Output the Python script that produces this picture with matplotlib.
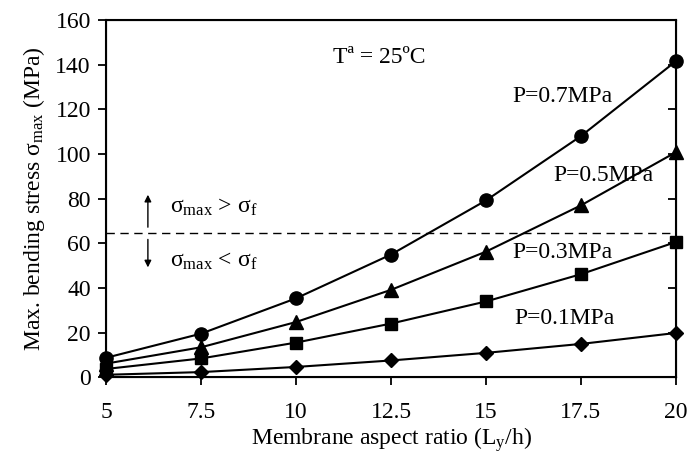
import matplotlib
matplotlib.use('agg')
import matplotlib.pyplot as plt
import numpy as np

# data
ratio = [5, 7.5, 10, 12.5, 15, 17.5, 20]
p07 = [8.8, 19.6, 35.4, 55.0, 79.2, 108.0, 141.5]
p05 = [6.2, 13.5, 24.8, 39.2, 56.3, 77.0, 100.8]
p03 = [3.8, 8.5, 15.6, 24.1, 34.0, 46.2, 60.6]
p01 = [1.2, 2.4, 4.7, 7.6, 11.0, 15.0, 19.9]
sigma_f = 64.5

plt.rcParams['font.family'] = ['Liberation Serif', 'DejaVu Serif']
plt.rcParams['mathtext.fontset'] = 'custom'
plt.rcParams['mathtext.rm'] = 'Liberation Serif'
plt.rcParams['mathtext.it'] = 'Liberation Serif:italic'

fig = plt.figure(figsize=(6.89, 4.62), dpi=100)
ax = fig.add_axes([0.154, 0.183, 0.827, 0.774])

series = [(p07, 'o', 9.5), (p05, '^', 10), (p03, 's', 8.5), (p01, 'D', 7.5)]
for vals, mk, ms in series:
    ax.plot(ratio, vals, color='black', lw=1.5, marker=mk, ms=ms, clip_on=False, zorder=3)

ax.axhline(sigma_f, color='black', lw=1, ls=(0, (6, 4)))

ax.set_xlim(5, 20)
ax.set_ylim(0, 160)
ax.set_xticks(ratio)
ax.set_xticklabels(['5', '7.5', '10', '12.5', '15', '17.5', '20'])
ax.set_yticks(np.arange(0, 161, 20))
ax.tick_params(axis='both', labelsize=17, direction='out', length=6, width=1.3)
ax.tick_params(axis='x', pad=12)
ax.tick_params(axis='y', pad=5)
for sp in ax.spines.values():
    sp.set_linewidth(1.5)

# right side: inward ticks, no labels
ax2 = ax.twinx()
ax2.set_ylim(0, 160)
ax2.set_yticks(np.arange(0, 161, 20))
ax2.tick_params(axis='y', direction='in', length=6, width=1.3, labelright=False)

ax.set_xlabel(r'Membrane aspect ratio (L$_{\mathrm{y}}$/h)', fontsize=17, labelpad=1)
ax.set_ylabel(r'Max. bending stress σ$_{\mathrm{max}}$ (MPa)', fontsize=17, labelpad=6)

ax.text(10.98, 143, 'Tª = 25ºC', fontsize=17, va='center')
ax.text(15.69, 125.5, 'P=0.7MPa', fontsize=17, va='center')
ax.text(16.78, 90.5, 'P=0.5MPa', fontsize=17, va='center')
ax.text(15.69, 56, 'P=0.3MPa', fontsize=17, va='center')
ax.text(15.74, 26.4, 'P=0.1MPa', fontsize=17, va='center')
ax.text(6.67, 76, r'σ$_{\mathrm{max}}$ > σ$_{\mathrm{f}}$', fontsize=17, va='center')
ax.text(6.67, 52, r'σ$_{\mathrm{max}}$ < σ$_{\mathrm{f}}$', fontsize=17, va='center')
ax.annotate('', xy=(6.1, 83), xytext=(6.1, 66), arrowprops=dict(arrowstyle='-|>', color='black', lw=1, mutation_scale=10))
ax.annotate('', xy=(6.1, 48), xytext=(6.1, 63), arrowprops=dict(arrowstyle='-|>', color='black', lw=1, mutation_scale=10))

fig.savefig('out.png', dpi=100)
